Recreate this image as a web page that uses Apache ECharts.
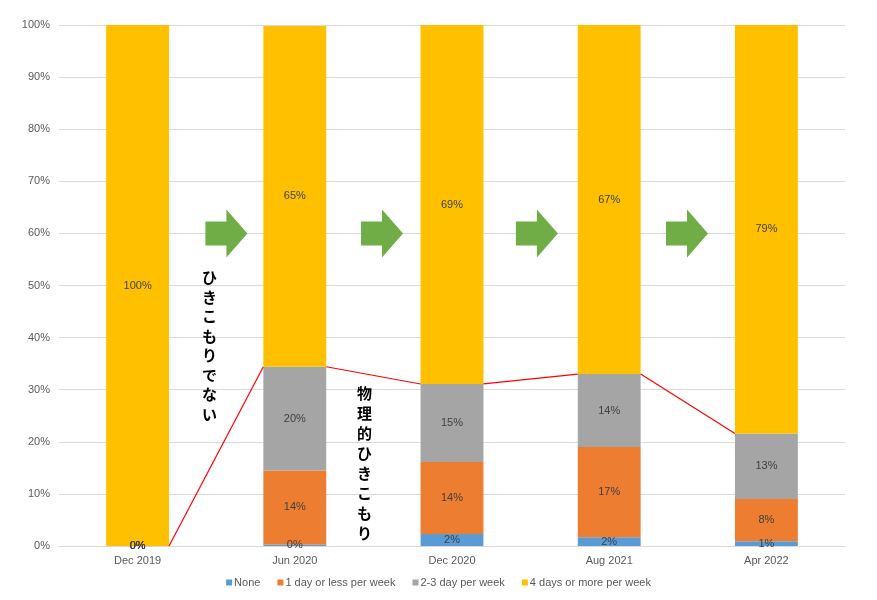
<!DOCTYPE html>
<html>
<head>
<meta charset="utf-8">
<script src="https://cdn.jsdelivr.net/npm/echarts@6/dist/echarts.min.js"></script>
<style>html,body{margin:0;padding:0;background:#fff}#c{width:877px;height:600px}</style>
</head>
<body>
<div id="c"></div>
<script>
const categories = ['Dec 2019', 'Jun 2020', 'Dec 2020', 'Aug 2021', 'Apr 2022'];
const seriesNames = ['None', '1 day or less per week', '2-3 day per week', '4 days or more per week'];
const noneVals = [0, 0.3, 2.3, 1.7, 0.9];
const oneDayVals = [0, 14.2, 13.8, 17.3, 8.1];
const twoThreeVals = [0, 19.9, 15.0, 14.0, 12.6];
const fourPlusVals = [100, 65.4, 68.9, 67.0, 78.5];
const yTicks = [0, 10, 20, 30, 40, 50, 60, 70, 80, 90, 100];
const arrowLevel = 60;
const arrowSlots = [0, 1, 2, 3];
const arrowShift = [0.065, 0.055, 0.04, -0.005];
const noteLeft = 'ひきこもりでない';
const noteRight = '物理的ひきこもり';

const colors = ['#5b9bd5', '#ed7d31', '#a5a5a5', '#ffc000'];
const font = '"Liberation Sans", Arial, sans-serif';
const cum = categories.map((_, i) => noneVals[i] + oneDayVals[i] + twoThreeVals[i]);

const chart = echarts.init(document.getElementById('c'), null, {renderer: 'canvas'});

function barSeries(name, data, color) {
  return {
    name, type: 'bar', stack: 'total', data, barWidth: '40%',
    itemStyle: {color},
    label: {
      show: true, position: 'inside', color: '#404040', fontSize: 11, fontFamily: font,
      formatter: p => Math.round(p.value) + '%'
    },
    emphasis: {disabled: true}
  };
}

const option = {
  animation: false,
  textStyle: {fontFamily: font},
  color: colors,
  grid: {left: 59, right: 32, top: 25, bottom: 54},
  legend: {
    bottom: 7, left: 'center', itemWidth: 6, itemHeight: 6, itemGap: 17, icon: 'rect',
    data: seriesNames,
    textStyle: {color: '#595959', fontSize: 11, fontFamily: font, padding: [0, 0, 0, -3]}
  },
  xAxis: {
    type: 'category', data: categories,
    axisLine: {lineStyle: {color: '#d9d9d9'}},
    axisTick: {show: false},
    axisLabel: {color: '#595959', fontSize: 11, fontFamily: font, margin: 9}
  },
  yAxis: {
    type: 'value', min: 0, max: 100, interval: 10,
    axisLabel: {color: '#595959', fontSize: 11, fontFamily: font, formatter: '{value}%', margin: 9},
    splitLine: {lineStyle: {color: '#d9d9d9'}},
    axisLine: {show: false}, axisTick: {show: false}
  },
  series: [
    barSeries(seriesNames[0], noneVals, colors[0]),
    barSeries(seriesNames[1], oneDayVals, colors[1]),
    barSeries(seriesNames[2], twoThreeVals, colors[2]),
    barSeries(seriesNames[3], fourPlusVals, colors[3]),
    {
      type: 'custom', name: 'seriesLines', silent: true, z: 5,
      data: categories.map((_, i) => [i, cum[i]]),
      renderItem: function (params, api) {
        const i = api.value(0);
        if (i === 0) return null;
        const half = api.size([1, 0])[0] * 0.2;
        const a = api.coord([i - 1, cum[i - 1]]);
        const b = api.coord([i, cum[i]]);
        return {
          type: 'line',
          shape: {x1: a[0] + half, y1: a[1], x2: b[0] - half, y2: b[1]},
          style: {stroke: '#ff0000', lineWidth: 1.2}
        };
      }
    },
    {
      type: 'custom', name: 'arrows', silent: true, z: 6,
      data: arrowSlots.map(i => [i, arrowLevel]),
      renderItem: function (params, api) {
        const i = api.value(0);
        const bw = api.size([1, 0])[0];
        const p = api.coord([i, api.value(1)]);
        const cx = p[0] + bw * (0.5 + arrowShift[params.dataIndex]);
        const cy = p[1];
        return {
          type: 'polygon',
          shape: {points: [
            [cx - 21, cy - 12], [cx, cy - 12], [cx, cy - 24], [cx + 21, cy],
            [cx, cy + 24], [cx, cy + 12], [cx - 21, cy + 12]
          ]},
          style: {fill: '#70ad47'}
        };
      }
    }
  ],
  graphic: [
    {
      type: 'text', left: 202, top: 268, z: 10,
      style: {text: noteLeft.split('').join('\n'), fontSize: 15, fontWeight: 'bold', lineHeight: 19.5,
        fill: '#000', fontFamily: '"Noto Sans CJK JP", sans-serif', align: 'center'}
    },
    {
      type: 'text', left: 357, top: 383, z: 10,
      style: {text: noteRight.split('').join('\n'), fontSize: 15, fontWeight: 'bold', lineHeight: 20,
        fill: '#000', fontFamily: '"Noto Sans CJK JP", sans-serif', align: 'center'}
    }
  ]
};
chart.setOption(option);
</script>
</body>
</html>
